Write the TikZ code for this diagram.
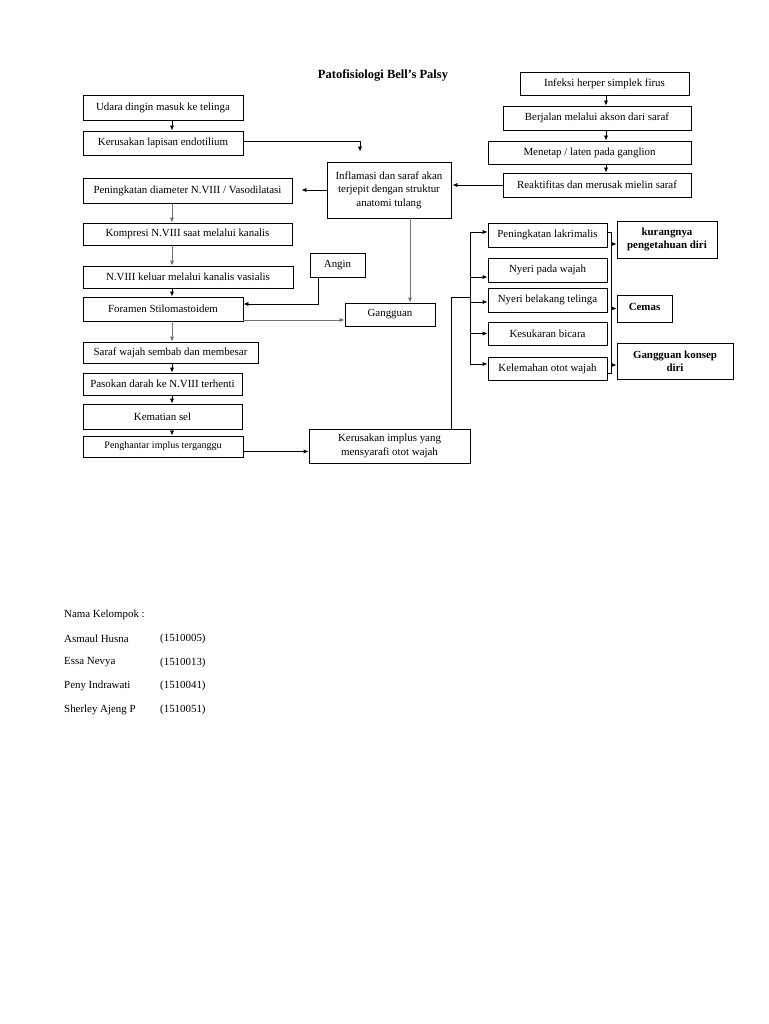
\documentclass[tikz,border=0pt]{standalone}
\usepackage{fontspec}
\setmainfont{Liberation Serif}
\usetikzlibrary{arrows.meta,calc}
\begin{document}
\begin{tikzpicture}[x=1pt,y=-1pt,
  box/.style={draw, line width=0.9pt, inner sep=0pt, align=center, font=\fontsize{10.9}{13.5}\selectfont},
  sbox/.style={box, font=\fontsize{10}{12}\selectfont},
  bbox/.style={box, font=\fontsize{10.9}{13}\selectfont\bfseries},
  arr/.style={-{Latex[length=5pt,width=4.4pt]}, line width=0.9pt},
  ln/.style={line width=0.9pt},
  gr/.style={draw=black!55, -{Latex[length=5pt,width=4.4pt,fill=black!55]}},
  lbl/.style={anchor=west, inner sep=0pt, font=\fontsize{10.9}{13}\selectfont}]
\useasboundingbox[fill=white] (0,0) rectangle (768,1024);

% title
\node[font=\fontsize{12.5}{14}\selectfont\bfseries] (title) at (383,75) {Patofisiologi Bell’s Palsy};

% left column
\node[box, minimum width=160, minimum height=25] (udara) at (163,107.5) {Udara dingin masuk ke telinga};
\node[box, minimum width=160, minimum height=24] (kerusakan) at (163,143) {Kerusakan lapisan endotilium};
\node[box, minimum width=209, minimum height=25] (peningkatan) at (187.5,190.5) {Peningkatan diameter N.VIII / Vasodilatasi};
\node[box, minimum width=209, minimum height=22] (kompresi) at (187.5,234) {Kompresi N.VIII saat melalui kanalis};
\node[box, minimum width=210, minimum height=22] (keluar) at (188,277) {N.VIII keluar melalui kanalis vasialis};
\node[box, minimum width=160, minimum height=24] (foramen) at (163,309) {Foramen Stilomastoidem};
\node[box, minimum width=175, minimum height=21] (saraf) at (170.5,352.5) {Saraf wajah sembab dan membesar};
\node[box, minimum width=159, minimum height=22] (pasokan) at (162.5,384) {Pasokan darah ke N.VIII terhenti};
\node[box, minimum width=159, minimum height=25] (kematian) at (162.5,416.5) {Kematian sel};
\node[sbox, minimum width=160, minimum height=21] (penghantar) at (163,446.5) {Penghantar implus terganggu};

% middle
\node[box, minimum width=124, minimum height=56] (inflamasi) at (389,190) {Inflamasi dan saraf akan\\terjepit dengan struktur\\anatomi tulang};
\node[box, minimum width=55, minimum height=24] (angin) at (337.5,265) {Angin};
\node[box, minimum width=90, minimum height=23] (gangguan) at (390,314.5) {Gangguan};
\node[box, minimum width=161, minimum height=34] (implus) at (389.5,446) {Kerusakan implus yang\\mensyarafi otot wajah};

% top right chain
\node[box, minimum width=169, minimum height=23] (infeksi) at (604.5,83.5) {Infeksi herper simplek firus};
\node[box, minimum width=188, minimum height=24] (berjalan) at (597,118) {Berjalan melalui akson dari saraf};
\node[box, minimum width=203, minimum height=23] (menetap) at (589.5,152.5) {Menetap / laten pada ganglion};
\node[box, minimum width=188, minimum height=24] (reaktif) at (597,185) {Reaktifitas dan merusak mielin saraf};

% right middle
\node[box, minimum width=119, minimum height=24] (lakrimalis) at (547.5,235) {Peningkatan lakrimalis};
\node[box, minimum width=119, minimum height=24] (nyeriwajah) at (547.5,270) {Nyeri pada wajah};
\node[box, minimum width=119, minimum height=24] (nyeritelinga) at (547.5,300) {Nyeri belakang telinga};
\node[box, minimum width=119, minimum height=23] (kesukaran) at (547.5,333.5) {Kesukaran bicara};
\node[box, minimum width=119, minimum height=23] (kelemahan) at (547.5,368.5) {Kelemahan otot wajah};

\node[bbox, minimum width=100, minimum height=37] (kurang) at (667,239.5) {kurangnya\\pengetahuan diri};
\node[bbox, minimum width=55, minimum height=27] (cemas) at (644.5,308.5) {\raisebox{3pt}{Cemas}};
\node[bbox, minimum width=116, minimum height=36] (konsep) at (675,361) {Gangguan konsep\\diri};

% helper coordinates
\coordinate (lx) at (172,0);
\coordinate (rx) at (606,0);
\coordinate (gx) at (410,0);
\coordinate (ax) at (318,0);
\coordinate (ix) at (451,0);
\coordinate (busTop) at (470,232);
\coordinate (busBot) at (470,364);
\coordinate (rb) at (611,0);

% left column arrows
\draw[arr] (udara.south -| lx) -- (kerusakan.north -| lx);
\draw[arr,gr] (peningkatan.south -| lx) -- (kompresi.north -| lx);
\draw[arr,gr] (kompresi.south -| lx) -- (keluar.north -| lx);
\draw[arr] (keluar.south -| lx) -- (foramen.north -| lx);
\draw[arr,gr] (foramen.south -| lx) -- (saraf.north -| lx);
\draw[arr] (saraf.south -| lx) -- (pasokan.north -| lx);
\draw[arr] (pasokan.south -| lx) -- (kematian.north -| lx);
\draw[arr] (kematian.south -| lx) -- (penghantar.north -| lx);

% top right arrows
\draw[arr] (infeksi.south -| rx) -- (berjalan.north -| rx);
\draw[arr] (berjalan.south -| rx) -- (menetap.north -| rx);
\draw[arr] (menetap.south -| rx) -- (reaktif.north -| rx);

% cross connectors
\draw[arr,shorten >=10pt] ($(kerusakan.east)+(0,-2)$) -| ($(inflamasi.north)+(-29,0)$);
\draw[arr,shorten >=9pt] (inflamasi.west) -- (inflamasi.west -| peningkatan.east);
\draw[arr,shorten >=1pt] (reaktif.west) -- (reaktif.west -| inflamasi.east);
\draw[arr,gr] (inflamasi.south -| gx) -- (gangguan.north -| gx);
\draw[arr] (angin.south -| ax) |- ($(foramen.east)+(0,-5)$);
\draw[arr,gr] ($(foramen.east)+(0,11)$) -- ({$(foramen.east)+(0,11)$} -| gangguan.west);
\draw[arr] ($(penghantar.east)+(0,5)$) -- ({$(penghantar.east)+(0,5)$} -| implus.west);

% implus to bus
\draw[ln] (implus.north -| ix) |- (busTop |- 0,297);
\draw[ln] (busTop) -- (busBot);
\draw[arr] (busTop) -- (busTop -| lakrimalis.west);
\draw[arr] (busTop |- {$(nyeriwajah.west)+(0,7)$}) -- ($(nyeriwajah.west)+(0,7)$);
\draw[arr] (busTop |- {$(nyeritelinga.west)+(0,2)$}) -- ($(nyeritelinga.west)+(0,2)$);
\draw[arr] (busTop |- kesukaran.west) -- (kesukaran.west);
\draw[arr] (busBot) -- (busBot -| kelemahan.west);

% right bus
\draw[ln] ($(lakrimalis.east)+(0,-3)$) -| (rb |- {$(kelemahan.east)+(0,4.5)$}) -- ($(kelemahan.east)+(0,4.5)$);
\draw[arr] (rb |- {$(kurang.west)+(0,4.5)$}) -- ($(kurang.west)+(0,4.5)$);
\draw[arr] (rb |- cemas.west) -- (cemas.west);
\draw[arr] (rb |- {$(konsep.west)+(0,4)$}) -- ($(konsep.west)+(0,4)$);

% footer
\node[lbl] (nama) at (64,615) {Nama Kelompok :};
\node[lbl] (n1) at (64,639) {Asmaul Husna};
\node[lbl] (i1) at (160,639) {(1510005)};
\node[lbl] (n2) at (64,662.5) {Essa Nevya};
\node[lbl] (i2) at (160,662.5) {(1510013)};
\node[lbl] (n3) at (64,686) {Peny Indrawati};
\node[lbl] (i3) at (160,686) {(1510041)};
\node[lbl] (n4) at (64,709.5) {Sherley Ajeng P};
\node[lbl] (i4) at (160,709.5) {(1510051)};
\end{tikzpicture}
\end{document}
